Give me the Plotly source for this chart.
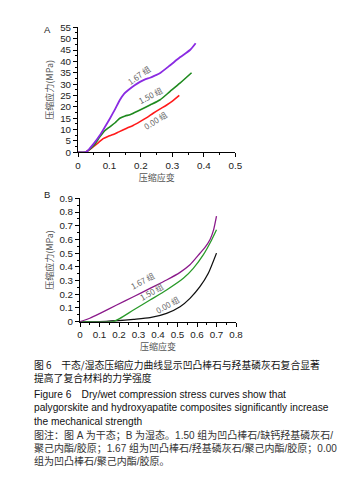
import plotly.graph_objects as go

W, H = 362, 488
OFF = 8                      # default page body margin
FW, FH = W - 2 * OFF, H - 2 * OFF

def px(x):
    return (x - OFF) / FW

def py(y):
    return 1 - (y - OFF) / FH

# ---------- Data: panel A (dry) ----------
a167_x = [0, 0.022, 0.03, 0.038, 0.05, 0.07, 0.085, 0.102, 0.118, 0.133, 0.147, 0.16, 0.18, 0.197, 0.215, 0.229, 0.245, 0.26, 0.292, 0.324, 0.356, 0.374]
a167_y = [0, 0, 0.6, 1.8, 3.8, 7.6, 11, 15, 19, 23, 25.8, 27.4, 29.5, 31, 32.2, 32.8, 33.8, 34.8, 38.2, 41.8, 45, 48]
a150_x = [0, 0.022, 0.03, 0.05, 0.07, 0.085, 0.102, 0.118, 0.133, 0.15, 0.165, 0.18, 0.197, 0.229, 0.26, 0.292, 0.324, 0.361]
a150_y = [0, 0, 0.5, 3, 6.9, 9.5, 11.3, 13, 15, 16, 16.5, 17.5, 18.6, 20.8, 23, 26.7, 30.4, 35]
a000_x = [0, 0.022, 0.035, 0.049, 0.065, 0.08, 0.095, 0.112, 0.13, 0.155, 0.175, 0.197, 0.22, 0.239, 0.26, 0.282, 0.3, 0.322]
a000_y = [0, 0, 1, 2.5, 4.3, 6.0, 7.0, 7.8, 9, 10.6, 11.8, 13.5, 15.4, 17.2, 19, 20.8, 22.5, 25]

# ---------- Data: panel B (wet) ----------
b167_x = [0, 0.05, 0.103, 0.188, 0.274, 0.359, 0.444, 0.513, 0.564, 0.615, 0.64, 0.667, 0.685, 0.7]
b167_y = [0, 0.025, 0.061, 0.122, 0.182, 0.243, 0.304, 0.36, 0.415, 0.499, 0.54, 0.6, 0.67, 0.77]
b150_x = [0, 0.17, 0.205, 0.274, 0.359, 0.444, 0.53, 0.581, 0.632, 0.675, 0.7]
b150_y = [0, 0, 0.024, 0.085, 0.158, 0.231, 0.316, 0.389, 0.487, 0.596, 0.67]
b000_x = [0, 0.1, 0.188, 0.274, 0.359, 0.444, 0.513, 0.564, 0.615, 0.658, 0.7]
b000_y = [0, 0, 0.007, 0.017, 0.029, 0.061, 0.109, 0.17, 0.255, 0.353, 0.5]

group_labels = ["1.67 组", "1.50 组", "0.00 组"]
x_title = "压缩应变"
y_title = "压缩应力(MPa)"

caption_cn = ["图 6　干态/湿态压缩应力曲线显示凹凸棒石与羟基磷灰石复合显著",
              "提高了复合材料的力学强度"]
caption_en = ["Figure 6　Dry/wet compression stress curves show that",
              "palygorskite and hydroxyapatite composites significantly increase",
              "the mechanical strength"]
caption_note = ["图注：图 A 为干态；B 为湿态。1.50 组为凹凸棒石/缺钙羟基磷灰石/",
                "聚己内酯/胶原；1.67 组为凹凸棒石/羟基磷灰石/聚己内酯/胶原；0.00",
                "组为凹凸棒石/聚己内酯/胶原。"]

FONT = "Liberation Sans, Arial, Noto Sans CJK SC"
CJK = "Noto Sans CJK SC, Liberation Sans"

fig = go.Figure()

def add(x, y, color, width, xa, ya):
    fig.add_trace(go.Scatter(x=x, y=y, mode="lines",
                             line=dict(color=color, width=width, shape="spline", smoothing=0.6),
                             xaxis=xa, yaxis=ya, showlegend=False, hoverinfo="skip"))

add(a000_x, a000_y, "#ff1a1a", 1.6, "x", "y")
add(a150_x, a150_y, "#1f8a1f", 1.6, "x", "y")
add(a167_x, a167_y, "#8a2be2", 1.8, "x", "y")
add(b000_x, b000_y, "#111111", 1.3, "x2", "y2")
add(b150_x, b150_y, "#2a9a2a", 1.3, "x2", "y2")
add(b167_x, b167_y, "#8b1a8b", 1.3, "x2", "y2")

axis_common = dict(showline=True, linecolor="black", linewidth=1, ticks="outside", ticklen=4, tickwidth=1,
                   tickcolor="black", showgrid=False, zeroline=False, automargin=False,
                   tickfont=dict(family=FONT, size=9.8, color="#222"),
                   minor=dict(ticks="outside", ticklen=2, tickcolor="black"))
title_font = dict(family=CJK, size=9, color="#555")

fig.update_layout(
    template="none",
    width=FW, height=FH, margin=dict(l=0, r=0, t=0, b=0, autoexpand=False),
    paper_bgcolor="white", plot_bgcolor="white",
    xaxis=dict(domain=[px(78), px(235.3)], range=[0, 0.5], dtick=0.1, anchor="y",
               title=dict(text=x_title, font=title_font, standoff=2),
               minor_dtick=0.05, **axis_common),
    yaxis=dict(domain=[py(152.3), py(27.3)], range=[0, 55], dtick=5, anchor="x",
               title=dict(text=y_title, font=title_font, standoff=4),
               minor_dtick=2.5, **axis_common),
    xaxis2=dict(domain=[px(80), px(236)], range=[0, 0.8], dtick=0.1, anchor="y2",
                title=dict(text=x_title, font=title_font, standoff=2),
                minor_dtick=0.05, **axis_common),
    yaxis2=dict(domain=[py(321.7), py(198.3)], range=[0, 0.9], dtick=0.1, anchor="x2",
                title=dict(text=y_title, font=title_font, standoff=4),
                minor_dtick=0.05, **axis_common),
)

ann = []
lab_font = dict(family=CJK, size=8, color="#666")
for (lx, ly, ang), t in zip([(0.191, 34, -35), (0.229, 24.8, -28), (0.245, 13.8, -33)], group_labels):
    ann.append(dict(x=lx, y=ly, xref="x", yref="y", text=t, textangle=ang, showarrow=False, font=lab_font))
for (lx, ly, ang), t in zip([(0.323, 0.297, -28), (0.369, 0.217, -30), (0.451, 0.122, -30)], group_labels):
    ann.append(dict(x=lx, y=ly, xref="x2", yref="y2", text=t, textangle=ang, showarrow=False, font=lab_font))
ann.append(dict(x=px(42), y=py(22), xref="paper", yref="paper", text="A", showarrow=False,
                font=dict(family=FONT, size=9.5, color="#222")))
ann.append(dict(x=px(42), y=py(194), xref="paper", yref="paper", text="B", showarrow=False,
                font=dict(family=FONT, size=9.5, color="#222")))

# caption blocks (vertical centre in px)
blocks = [
    (caption_cn, 371.5, dict(family=CJK, size=9.8, color="#111")),
    (caption_en, 407.8, dict(family=FONT, size=10.2, color="#111")),
    (caption_note, 448.2, dict(family="Liberation Sans, Noto Sans CJK SC", size=10, color="#333")),
]
for lines, cy, f in blocks:
    ann.append(dict(x=px(32), y=py(cy), xref="paper", yref="paper", text="<br>".join(lines),
                    showarrow=False, xanchor="left", yanchor="middle", align="left", font=f))
fig.update_layout(annotations=ann)

fig.write_html("out.html")
